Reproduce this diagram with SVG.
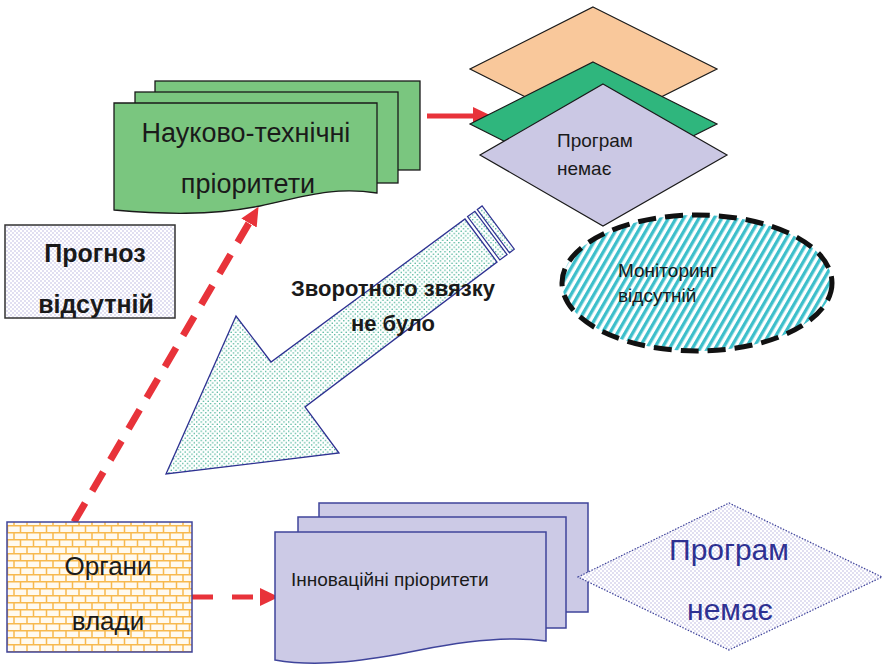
<svg xmlns="http://www.w3.org/2000/svg" width="884" height="667" viewBox="0 0 884 667">
<style>
.t{font-family:"Liberation Sans",Arial,sans-serif;fill:#1a1a1a}
.b{font-weight:bold}
.gdoc{fill:#7ac67f;stroke:#1a1a1a;stroke-width:1.3}
.pdoc{fill:#cccae6;stroke:#3f449b;stroke-width:1.5}
.red{fill:none;stroke:#e8333a}
</style>
<defs>
<pattern id="dotLav" width="4" height="4" patternUnits="userSpaceOnUse">
<rect width="4" height="4" fill="#fff"/>
<circle cx="1" cy="1" r="0.75" fill="#b4b1dc"/>
<circle cx="3" cy="3" r="0.75" fill="#b4b1dc"/>
</pattern>
<pattern id="dotTeal" width="4.6" height="4.6" patternUnits="userSpaceOnUse">
<rect width="4.6" height="4.6" fill="#fff"/>
<circle cx="1.15" cy="1.15" r="0.75" fill="#2aa585"/>
<circle cx="3.45" cy="3.45" r="0.75" fill="#2aa585"/>
</pattern>
<pattern id="brick" width="13" height="14" patternUnits="userSpaceOnUse">
<rect width="13" height="14" fill="#fffaf0"/>
<path d="M0,0.75H13M0,7.75H13M1,0V7M7.5,7V14" stroke="#f7b94e" stroke-width="1.5" fill="none"/>
</pattern>
<pattern id="stripe" width="6.6" height="8" patternUnits="userSpaceOnUse" patternTransform="rotate(30)">
<rect width="6.6" height="8" fill="#fff"/>
<rect width="3.3" height="8" fill="#3dbfcb"/>
</pattern>
<marker id="ah" markerUnits="userSpaceOnUse" markerWidth="20" markerHeight="20" refX="0" refY="8" orient="auto" viewBox="0 0 18 16">
<path d="M0,0L17,8L0,16Z" fill="#e8333a"/>
</marker>
</defs>

<g id="connectors">
<line class="red" x1="427" y1="116" x2="473" y2="116" stroke-width="5" marker-end="url(#ah)"/>
<line class="red" x1="74" y1="522" x2="249" y2="223" stroke-width="7" stroke-dasharray="22 14" marker-end="url(#ah)"/>
<line class="red" x1="192" y1="597" x2="260" y2="597" stroke-width="5" stroke-dasharray="21 19" marker-end="url(#ah)"/>
</g>

<g id="nt-priorities">
<rect class="gdoc" x="155" y="81" width="265" height="89"/>
<rect class="gdoc" x="135" y="92" width="263" height="91"/>
<path class="gdoc" d="M114,103H377V193C330,186 300,198 260,206C210,216 160,214 114,210Z"/>
<text class="t" x="246" y="142" font-size="27" text-anchor="middle">Науково-технічні</text>
<text class="t" x="248" y="193" font-size="27" text-anchor="middle">пріоритети</text>
</g>

<g id="programs-top">
<polygon points="593,7 717,69 593,131 470,69" fill="#f9c89b" stroke="#1a1a1a" stroke-width="1.2"/>
<polygon points="593,62 717,124 593,186 470,124" fill="#2fb67d" stroke="#1a1a1a" stroke-width="1.2"/>
<polygon points="603,84 727,155 603,226 480,155" fill="#cbc8e4" stroke="#1a1a1a" stroke-width="1.2"/>
<text class="t" x="557" y="147" font-size="19">Програм</text>
<text class="t" x="557" y="175" font-size="19">немає</text>
</g>

<g id="forecast">
<rect x="5" y="225" width="170" height="93" fill="url(#dotLav)" stroke="#333" stroke-width="1.5"/>
<text class="t b" x="95" y="262" font-size="25" text-anchor="middle">Прогноз</text>
<text class="t b" x="96" y="313" font-size="25" text-anchor="middle">відсутній</text>
</g>

<g id="feedback-arrow">
<polygon points="166,474 236,316 271,362 465,219 497,262 305,407 339,453" fill="url(#dotTeal)" stroke="#2e3192" stroke-width="1.3" stroke-linejoin="miter"/>
<polygon points="467.6,216.6 474.9,211.3 507.1,254.6 499.8,259.9" fill="url(#dotTeal)" stroke="#2e3192" stroke-width="1.2"/>
<polygon points="477.3,209.5 482.1,205.9 514.3,249.2 509.5,252.8" fill="url(#dotTeal)" stroke="#2e3192" stroke-width="1.2"/>
<text class="t b" x="393" y="296" font-size="22" text-anchor="middle">Зворотного звязку</text>
<text class="t b" x="393" y="331" font-size="22" text-anchor="middle">не було</text>
</g>

<g id="monitoring">
<ellipse cx="697" cy="283" rx="135" ry="68" fill="url(#stripe)" stroke="#111" stroke-width="5" stroke-dasharray="18 9"/>
<text class="t" x="618" y="277" font-size="19" fill="#222">Моніторинг</text>
<text class="t" x="618" y="302" font-size="19" fill="#222">відсутній</text>
</g>

<g id="authorities">
<rect x="7" y="522" width="185" height="130" fill="url(#brick)" stroke="#3f449b" stroke-width="1.5"/>
<text class="t" x="108" y="575" font-size="26" text-anchor="middle">Органи</text>
<text class="t" x="108" y="630" font-size="26" text-anchor="middle">влади</text>
</g>

<g id="innovation-priorities">
<rect class="pdoc" x="319" y="503" width="269" height="109"/>
<rect class="pdoc" x="298" y="517" width="268" height="111"/>
<path class="pdoc" d="M275,532H546V641C510,636 470,640 420,650C370,660 320,668 275,660Z"/>
<text class="t" x="291" y="586" font-size="19">Інноваційні пріоритети</text>
</g>

<g id="programs-bottom">
<polygon points="578,577 729,503 882,577 729,650" fill="url(#dotLav)" stroke="#3f449b" stroke-width="1.2" stroke-dasharray="1.5 1.5"/>
<text class="t" x="729" y="560" font-size="30" text-anchor="middle" style="fill:#2e3192">Програм</text>
<text class="t" x="730" y="620" font-size="30" text-anchor="middle" style="fill:#2e3192">немає</text>
</g>
</svg>
